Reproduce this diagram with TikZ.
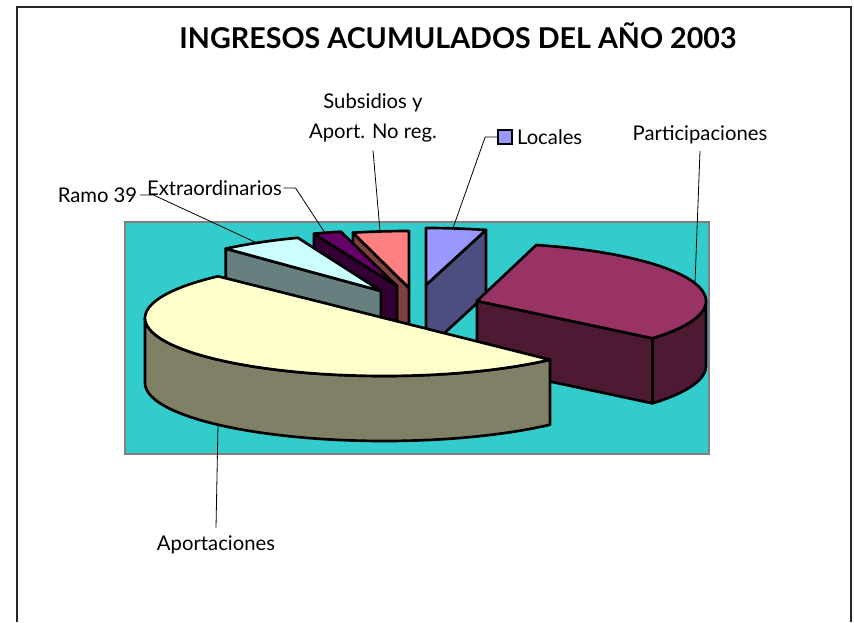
\documentclass[tikz,border=0pt]{standalone}
\usepackage{fontspec}
\setmainfont{Lato}
\usepackage{tikz}
\usetikzlibrary{positioning}

\definecolor{plotbg}{HTML}{33CCCC}
\definecolor{partictop}{HTML}{993366}
\definecolor{particside}{HTML}{4D1933}
\definecolor{aporttop}{HTML}{FFFFCC}
\definecolor{aportside}{HTML}{808066}
\definecolor{ramotop}{HTML}{CCFFFF}
\definecolor{ramoside}{HTML}{668080}
\definecolor{extratop}{HTML}{660066}
\definecolor{extraside}{HTML}{330033}
\definecolor{subsidtop}{HTML}{FF8080}
\definecolor{subsidside}{HTML}{804040}
\definecolor{localtop}{HTML}{9999FF}
\definecolor{localside}{HTML}{4D4D80}

\begin{document}
\begin{tikzpicture}[x=0.75pt, y=-0.75pt,
        lbl/.style={inner sep=2pt, font=\fontsize{15.2}{22.5}\selectfont},
        leader/.style={line width=0.6pt},
        pieline/.style={draw=black, line width=2pt, line join=round}]
    \useasboundingbox (0,0) rectangle (854,622);
    \draw[line width=1.2pt, black!85] (17,622) -- (17,7) -- (851,7) -- (851,622);
    \node[inner sep=0pt, font=\bfseries\fontsize{21.5}{26}\selectfont] (title) at (458,36) {INGRESOS ACUMULADOS DEL AÑO 2003};

    % plot area
    \filldraw[fill=plotbg, draw=black!50, line width=1.5pt] (125,222) rectangle (709,454);

    % Locales
    \filldraw[pieline, fill=localside] (426,285) -- (486,229.9) -- (486,294.9) -- (426,350) -- cycle;
    \filldraw[pieline, fill=localtop] (426,285) -- plot[domain=75:90, samples=10, variable=\t] ({426+232*cos(\t)}, {285-57*sin(\t)}) -- cycle;
    % Subsidios
    \filldraw[pieline, fill=subsidside] (409,288) -- (352.9,232.7) -- (352.9,297.7) -- (409,353) -- cycle;
    \filldraw[pieline, fill=subsidtop] (409,288) -- plot[domain=90:104, samples=10, variable=\t] ({409+232*cos(\t)}, {288-57*sin(\t)}) -- cycle;
    % Extraordinarios
    \filldraw[pieline, fill=extraside] (397,286) -- (313.9,233.7) -- (313.9,298.7) -- (397,351) -- cycle;
    \filldraw[pieline, fill=extratop] (397,286) -- plot[domain=104:111, samples=8, variable=\t] ({397+232*cos(\t)}, {286-56*sin(\t)}) -- cycle;
    % Ramo 39
    \filldraw[pieline, fill=ramoside] (381,291) -- (225.8,248.6) -- (225.8,313.6) -- (381,356) -- cycle;
    \filldraw[pieline, fill=ramotop] (381,291) -- plot[domain=111:132, samples=12, variable=\t] ({381+232*cos(\t)}, {291-57*sin(\t)}) -- cycle;
    % Participaciones
    \filldraw[pieline, fill=particside] (477,301) -- (652.4,338.3) -- (652.4,403.3) -- (477,366) -- cycle;
    \filldraw[pieline, fill=particside] plot[domain=320:360, samples=20, variable=\t] ({477+229*cos(\t)}, {301-58*sin(\t)})
        -- plot[domain=360:320, samples=20, variable=\t] ({477+229*cos(\t)}, {366-58*sin(\t)}) -- cycle;
    \filldraw[pieline, fill=partictop] (477,301) -- plot[domain=320:435, samples=50, variable=\t] ({477+229*cos(\t)}, {301-58*sin(\t)}) -- cycle;
    % Aportaciones
    \filldraw[pieline, fill=aportside] plot[domain=180:314, samples=50, variable=\t] ({384+239*cos(\t)}, {318-58*sin(\t)})
        -- plot[domain=314:180, samples=50, variable=\t] ({384+239*cos(\t)}, {383-58*sin(\t)}) -- cycle;
    \filldraw[pieline, fill=aporttop] (384,318) -- plot[domain=134:314, samples=70, variable=\t] ({384+239*cos(\t)}, {318-58*sin(\t)}) -- cycle;

    % labels and leaders
    \coordinate (aportpt) at (218,425);
    \coordinate (particpt) at (695,283);
    \coordinate (localpt) at (453,228);
    \coordinate (subsidpt) at (380,231);
    \coordinate (extrapt) at (325,233);
    \coordinate (ramopt) at (257,243);

    \node[lbl, inner sep=6pt] (aport) at (216,545) {Aportaciones};
    \node[lbl, inner sep=5pt] (partic) at (700,135) {Participaciones};
    \node[draw=black, line width=1.2pt, fill=localtop, minimum size=10.5pt, inner sep=0pt] (lockey) at (505,137) {};
    \node[lbl, inner sep=0pt, right=3pt of lockey] (locales) {Locales};
    \node[lbl, align=center, inner sep=6pt] (subsid) at (373,118) {Subsidios y\\Aport. No reg.};
    \node[lbl, inner sep=1pt] (extra) at (214.5,188) {Extraordinarios};
    \node[lbl, inner sep=2pt] (ramo) at (97.5,195) {Ramo 39};

    \draw[leader] (aport.north) -- (aportpt);
    \draw[leader] (partic.south) -- (particpt);
    \draw[leader] (lockey.west) -- ([xshift=-9pt]lockey.west) -- (localpt);
    \draw[leader] (subsid.south) -- (subsidpt);
    \draw[leader] (extra.east) -- ([xshift=9pt]extra.east) -- (extrapt);
    \draw[leader] (ramo.east) -- ([xshift=10pt]ramo.east) -- (ramopt);
\end{tikzpicture}
\end{document}
